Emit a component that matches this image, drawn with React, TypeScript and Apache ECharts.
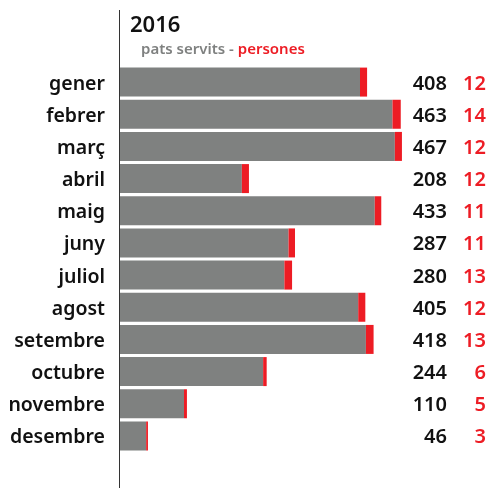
import React, { useEffect, useRef } from "react";
import * as echarts from "echarts";

const months = ["gener", "febrer", "març", "abril", "maig", "juny", "juliol", "agost", "setembre", "octubre", "novembre", "desembre"];
const pats = [408, 463, 467, 208, 433, 287, 280, 405, 418, 244, 110, 46];
const persones = [12, 14, 12, 12, 11, 11, 13, 12, 13, 6, 5, 3];
const year = "2016";

const FONT = "'Noto Sans', sans-serif";
const GRAY = "#7f8180";
const RED = "#ed1c24";

export default function App() {
  const ref = useRef<HTMLDivElement>(null);
  useEffect(() => {
    const chart = echarts.init(ref.current!, null, { renderer: "svg" });
    chart.setOption({
      animation: false,
      title: [
        {
          text: year,
          left: 125,
          top: 7,
          textStyle: { fontFamily: FONT, fontSize: 22, fontWeight: 600, color: "#111" },
        },
        {
          text: "{g|pats servits - }{r|persones}",
          left: 136,
          top: 35,
          textStyle: {
            rich: {
              g: { fontFamily: FONT, fontSize: 15, fontWeight: 600, color: GRAY },
              r: { fontFamily: FONT, fontSize: 15, fontWeight: 600, color: RED },
            },
          },
        },
      ],
      grid: { left: 119, top: 66, height: 386, right: 2 },
      xAxis: { type: "value", min: 0, max: 623, show: false },
      yAxis: [
        {
          type: "category",
          data: months,
          inverse: true,
          axisLine: { show: false },
          axisTick: { show: false },
          axisLabel: { margin: 14, fontFamily: FONT, fontSize: 19.5, fontWeight: 600, color: "#111" },
        },
        {
          type: "category",
          data: months,
          inverse: true,
          position: "right",
          axisLine: { show: false },
          axisTick: { show: false },
          axisLabel: {
            inside: true,
            margin: 1,
            formatter: (_v: string, i: number) => `{a|${pats[i]}}{b|${persones[i]}}`,
            rich: {
              a: { fontFamily: FONT, fontSize: 20, fontWeight: 600, color: "#111" },
              b: { fontFamily: FONT, fontSize: 20, fontWeight: 600, color: RED, width: 39, align: "right" },
            },
          },
        },
      ],
      series: [
        {
          type: "bar",
          stack: "a",
          data: pats,
          barWidth: 29,
          itemStyle: { color: GRAY },
        },
        {
          type: "bar",
          stack: "a",
          data: persones,
          barWidth: 29,
          itemStyle: { color: RED },
        },
      ],
      graphic: [
        {
          type: "line",
          shape: { x1: 119.5, y1: 10, x2: 119.5, y2: 488 },
          style: { stroke: "#333", lineWidth: 1 },
          z: 10,
        },
      ],
    });
    return () => chart.dispose();
  }, []);
  return <div ref={ref} style={{ position: "fixed", left: 0, top: 0, width: 489, height: 488 }} />;
}
